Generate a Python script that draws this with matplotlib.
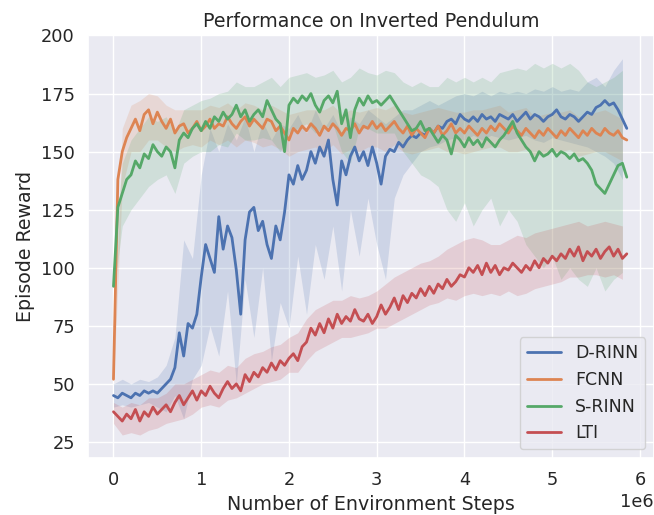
import numpy as np
import matplotlib
matplotlib.use("Agg")
import matplotlib.pyplot as plt
import seaborn as sns

# environment steps (millions) for the mean curves and for the bands
steps = np.round(np.arange(0, 118) * 0.05, 2) * 1e6
band_steps = np.round(np.arange(0, 59) * 0.1, 2) * 1e6

# mean episode reward
drinn = [45, 44, 46, 45, 44, 46, 45, 47, 46, 47, 46, 48, 50, 52, 57, 72, 62, 76, 74, 80,
         96, 110, 104, 98, 122, 108, 118, 113, 99, 80, 112, 124, 126, 116, 120, 110, 104, 118, 112, 124,
         140, 136, 144, 138, 142, 150, 145, 152, 148, 155, 138, 127, 146, 140, 148, 152, 146, 150, 144, 152,
         145, 136, 148, 151, 150, 154, 152, 155, 157, 156, 158, 157, 160, 158, 161, 160, 163, 164, 162, 166,
         164, 163, 165, 163, 166, 164, 165, 163, 166, 165, 164, 166, 163, 165, 167, 164, 166, 165, 163, 165,
         166, 168, 165, 164, 166, 165, 163, 165, 167, 166, 169, 170, 172, 170, 171, 168, 164, 160]
fcnn = [52, 138, 150, 156, 160, 164, 159, 166, 168, 162, 167, 163, 160, 164, 158, 161, 162, 158, 160, 163,
        159, 161, 164, 160, 162, 161, 165, 162, 160, 163, 165, 161, 164, 162, 160, 164, 163, 159, 161, 158,
        155, 160, 158, 161, 159, 162, 160, 157, 161, 159, 162, 160, 157, 160, 159, 162, 158, 161, 160, 163,
        160, 162, 159, 161, 163, 160, 158, 161, 157, 160, 158, 156, 160, 158, 161, 157, 159, 162, 158, 160,
        158, 161, 159, 157, 160, 158, 161, 159, 162, 160, 158, 161, 159, 157, 160, 158, 156, 159, 157, 160,
        158, 156, 159, 157, 160, 158, 156, 159, 157, 160, 158, 157, 160, 158, 157, 159, 156, 155]
srinn = [92, 126, 132, 138, 140, 146, 143, 149, 147, 153, 150, 148, 152, 150, 143, 155, 158, 156, 160, 162,
         159, 163, 160, 165, 163, 167, 164, 166, 170, 165, 168, 163, 166, 168, 165, 172, 168, 164, 162, 150,
         170, 173, 171, 174, 172, 175, 170, 167, 172, 174, 171, 176, 162, 168, 156, 168, 173, 170, 174, 171,
         172, 170, 172, 174, 171, 168, 165, 162, 159, 160, 163, 159, 160, 157, 154, 157, 155, 149, 157, 155,
         152, 156, 153, 155, 152, 156, 154, 152, 155, 157, 160, 163, 158, 155, 152, 150, 146, 150, 148, 149,
         151, 148, 150, 149, 147, 149, 146, 147, 145, 142, 136, 134, 132, 136, 140, 144, 145, 139]
lti = [38, 36, 34, 37, 35, 39, 34, 38, 36, 40, 37, 39, 41, 38, 42, 45, 41, 44, 47, 43,
       47, 45, 49, 46, 44, 48, 51, 48, 50, 47, 54, 51, 55, 53, 57, 55, 59, 56, 60, 58,
       61, 63, 60, 66, 68, 74, 71, 76, 72, 78, 74, 80, 76, 79, 77, 82, 78, 77, 80, 76,
       79, 84, 80, 83, 87, 82, 88, 85, 89, 87, 91, 88, 92, 89, 93, 91, 95, 92, 94, 97,
       96, 100, 98, 101, 97, 102, 98, 101, 97, 100, 99, 102, 100, 98, 101, 99, 103, 100, 104, 102,
       105, 103, 106, 104, 108, 105, 109, 103, 107, 105, 108, 104, 107, 109, 105, 108, 104, 106]

# lower / upper edges of the shaded bands
drinn_lo = [40, 41, 40, 41, 42, 40, 38, 45, 35, 52, 58, 75, 62, 90, 50, 95, 70, 100, 60, 85,
            74, 105, 80, 110, 95, 118, 90, 125, 105, 130, 110, 95, 130, 140, 145, 150, 152, 153, 155, 156,
            155, 157, 155, 157, 156, 155, 156, 157, 155, 154, 156, 155, 154, 153, 152, 150, 148, 145, 138]
drinn_hi = [50, 52, 50, 52, 51, 53, 58, 70, 112, 104, 140, 160, 150, 162, 155, 165, 150, 163, 155, 162,
            160, 166, 158, 168, 160, 166, 158, 165, 162, 168, 165, 162, 165, 168, 168, 170, 172, 170, 172, 174,
            175, 174, 176, 174, 176, 175, 176, 175, 177, 176, 178, 176, 177, 176, 180, 182, 178, 185, 190]
fcnn_lo = [50, 135, 150, 150, 155, 155, 152, 150, 152, 153, 152, 155, 153, 155, 152, 155, 154, 152, 153, 151,
           148, 150, 151, 152, 150, 153, 149, 151, 150, 152, 152, 150, 153, 150, 149, 150, 151, 152, 150, 150,
           149, 150, 151, 152, 152, 150, 150, 151, 148, 149, 150, 150, 151, 148, 149, 150, 150, 148, 146]
fcnn_hi = [55, 160, 170, 172, 175, 174, 170, 168, 168, 168, 168, 170, 169, 171, 168, 171, 170, 168, 170, 168,
           166, 167, 168, 168, 168, 170, 166, 168, 167, 168, 169, 168, 170, 167, 166, 167, 168, 169, 168, 167,
           167, 168, 168, 169, 170, 167, 168, 169, 165, 166, 167, 167, 168, 165, 166, 167, 168, 166, 164]
srinn_lo = [88, 118, 125, 130, 135, 138, 140, 132, 145, 148, 150, 150, 153, 152, 158, 155, 155, 156, 155, 150,
            158, 160, 162, 158, 160, 162, 150, 145, 160, 160, 158, 158, 158, 150, 145, 140, 138, 135, 125, 120,
            128, 118, 125, 130, 118, 125, 120, 110, 105, 100, 105, 95, 100, 95, 92, 100, 90, 95, 98]
srinn_hi = [100, 145, 155, 160, 165, 163, 165, 158, 168, 170, 172, 173, 175, 176, 180, 178, 178, 180, 182, 178,
            182, 183, 184, 182, 183, 185, 180, 182, 186, 184, 183, 185, 184, 180, 178, 180, 178, 178, 182, 180,
            182, 180, 182, 180, 184, 185, 186, 185, 188, 186, 188, 186, 188, 185, 180, 178, 180, 182, 185]
lti_lo = [33, 28, 29, 28, 30, 31, 33, 34, 35, 37, 40, 41, 40, 43, 44, 46, 48, 50, 51, 52,
          55, 55, 60, 64, 66, 68, 70, 70, 71, 72, 74, 74, 76, 78, 80, 82, 84, 85, 87, 86,
          88, 89, 88, 89, 88, 90, 88, 89, 91, 92, 93, 94, 96, 96, 97, 97, 96, 97, 95]
lti_hi = [42, 40, 42, 41, 44, 44, 46, 50, 50, 52, 54, 56, 55, 58, 57, 61, 63, 64, 66, 67,
          70, 72, 78, 82, 84, 86, 86, 88, 87, 88, 90, 93, 96, 98, 100, 102, 103, 105, 108, 110,
          112, 113, 112, 110, 110, 112, 114, 113, 115, 116, 117, 118, 119, 120, 118, 119, 120, 119, 118]

names = ["D-RINN", "FCNN", "S-RINN", "LTI"]

sns.set_theme(style="darkgrid")
plt.rcParams['font.family'] = ['DejaVu Sans']
colors = sns.color_palette("deep")

fig = plt.figure(figsize=(6.54, 5.15), dpi=100)
ax = fig.add_axes([0.1346, 0.1107, 0.8654, 0.8213])

series = [(drinn, drinn_lo, drinn_hi), (fcnn, fcnn_lo, fcnn_hi),
          (srinn, srinn_lo, srinn_hi), (lti, lti_lo, lti_hi)]
for i, (mean, lo, hi) in enumerate(series):
    ax.fill_between(band_steps, lo, hi, color=colors[i], alpha=0.18, linewidth=0)
for i, (mean, lo, hi) in enumerate(series):
    ax.plot(steps, mean, color=colors[i], linewidth=2.0, label=names[i])

ax.set_xlim(-0.29e6, 6.16e6)
ax.set_ylim(18.1, 200.2)
ax.set_yticks([25, 50, 75, 100, 125, 150, 175, 200])
ax.tick_params(labelsize=12.8)
ax.xaxis.get_offset_text().set_fontsize(12.8)
ax.set_xlabel("Number of Environment Steps", fontsize=13.7)
ax.set_ylabel("Episode Reward", fontsize=13.7)
ax.set_title("Performance on Inverted Pendulum", fontsize=13.7)
ax.legend(loc="lower right", fontsize=12.5)

fig.savefig("out.png", dpi=100)
